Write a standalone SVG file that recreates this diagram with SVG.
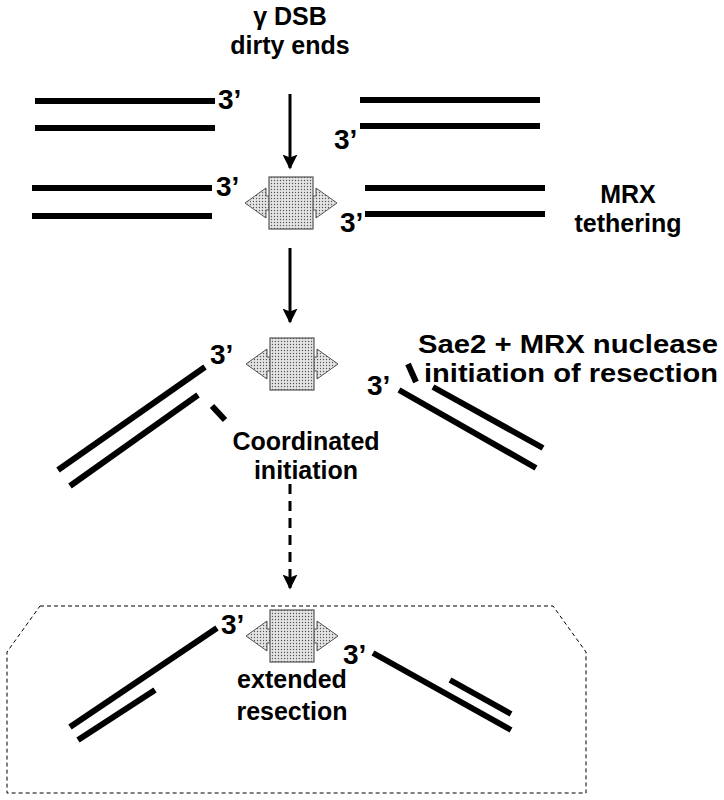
<svg xmlns="http://www.w3.org/2000/svg" width="724" height="800" viewBox="0 0 724 800">
<defs>
<pattern id="dots" width="3" height="3" patternUnits="userSpaceOnUse"><rect width="3" height="3" fill="#e4e4e4"/><circle cx="1.5" cy="1.5" r="0.7" fill="#555"/></pattern>
<marker id="ah" viewBox="0 0 10 10" refX="9" refY="5" markerWidth="5" markerHeight="5" orient="auto"><path d="M0,0 L10,5 L0,10 L2,5 z" fill="#000"/></marker>
<g id="mrx">
<polygon points="-46,0 -25,-15 -25,-7 25,-7 25,-15 46,0 25,15 25,7 -25,7 -25,15" fill="url(#dots)" stroke="#555" stroke-width="1"/>
<rect x="-22" y="-26" width="44" height="52" fill="url(#dots)" stroke="#555" stroke-width="1.2"/>
</g>
</defs>
<style>
.d{stroke:#000;stroke-width:6;fill:none}
.t{font-family:"Liberation Sans",Arial,sans-serif;font-weight:bold;font-size:25px;fill:#000}
.s{font-size:28px}
.m{text-anchor:middle}
</style>
<g id="labels">
<text class="t m" x="290" y="25">γ DSB</text>
<text class="t m" x="290" y="54">dirty ends</text>
<text class="t m" x="628" y="203">MRX</text>
<text class="t m" x="628" y="232">tethering</text>
<text class="t" x="418" y="353" textLength="300" lengthAdjust="spacingAndGlyphs">Sae2 + MRX nuclease</text>
<text class="t" x="424" y="382" textLength="294" lengthAdjust="spacingAndGlyphs">initiation of resection</text>
<text class="t m" x="306" y="450">Coordinated</text>
<text class="t m" x="306" y="479">initiation</text>
<text class="t m" x="292" y="688">extended</text>
<text class="t m" x="292" y="720">resection</text>
</g>
<g id="ends" class="t s">
<text x="218" y="109">3’</text><text x="334" y="149">3’</text>
<text x="216" y="196">3’</text><text x="340" y="232">3’</text>
<text x="210" y="364">3’</text><text x="367" y="395">3’</text>
<text x="221" y="634">3’</text><text x="343" y="664">3’</text>
</g>
<g id="dna" class="d">
<line x1="35" y1="101" x2="215" y2="101"/><line x1="35" y1="128" x2="215" y2="128"/>
<line x1="360" y1="100" x2="540" y2="100"/><line x1="360" y1="126" x2="540" y2="126"/>
<line x1="32" y1="188" x2="212" y2="188"/><line x1="32" y1="216" x2="212" y2="216"/>
<line x1="365" y1="188" x2="545" y2="188"/><line x1="365" y1="214" x2="545" y2="214"/>
<line x1="58" y1="470" x2="205" y2="367"/><line x1="70" y1="486" x2="198" y2="395"/>
<line x1="212" y1="406" x2="225" y2="420"/>
<line x1="408" y1="364" x2="416" y2="382"/>
<line x1="399" y1="390" x2="536" y2="468"/><line x1="433" y1="387" x2="543" y2="448"/>
<line x1="70" y1="727" x2="217" y2="628"/><line x1="78" y1="740" x2="155" y2="690"/>
<line x1="373" y1="653" x2="511" y2="730"/><line x1="450" y1="680" x2="511" y2="714"/>
</g>
<g id="mrx-nodes">
<use href="#mrx" x="291" y="203"/>
<use href="#mrx" x="292" y="364"/>
<use href="#mrx" x="292" y="636"/>
</g>
<g id="connectors" stroke="#000" stroke-width="3" fill="none">
<line x1="290" y1="94" x2="290" y2="168" marker-end="url(#ah)"/>
<line x1="290" y1="248" x2="290" y2="322" marker-end="url(#ah)"/>
<line x1="290" y1="484" x2="290" y2="588" stroke-dasharray="10,7" marker-end="url(#ah)"/>
</g>
<path id="box" d="M40,606 L553,606 L586,652 L586,793 L7,793 L7,652 Z" fill="none" stroke="#000" stroke-width="1" stroke-dasharray="4,3"/>
</svg>
